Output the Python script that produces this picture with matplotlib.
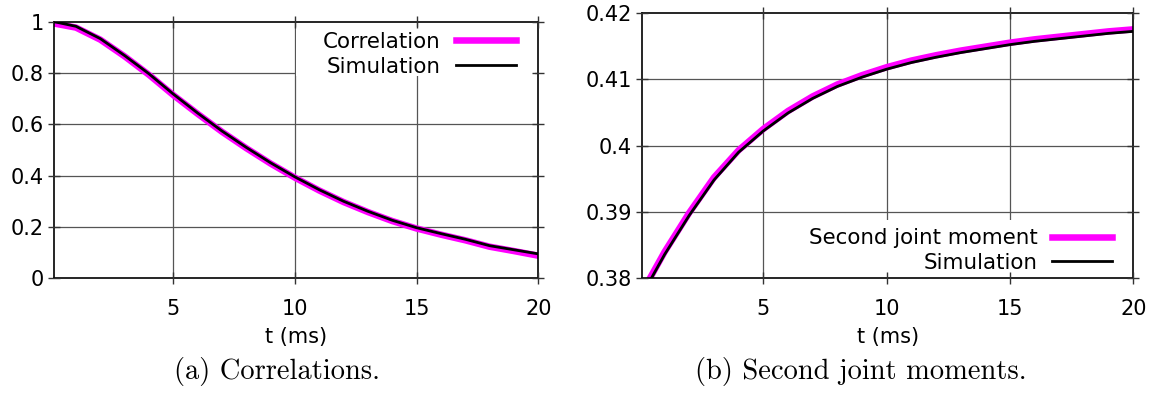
import matplotlib
matplotlib.use("Agg")
import matplotlib.pyplot as plt
from matplotlib.patches import Rectangle

# time axis (ms)
t = [0.1, 1, 2, 3, 4, 5, 6, 7, 8, 9, 10, 11, 12, 13, 14, 15, 16, 17, 18, 19, 20]

# (a) correlations
corr_theory = [0.993, 0.977, 0.930, 0.865, 0.793, 0.714, 0.641, 0.571, 0.507, 0.447, 0.392,
               0.342, 0.297, 0.258, 0.223, 0.194, 0.170, 0.148, 0.123, 0.106, 0.088]
corr_sim = [1.000, 0.982, 0.934, 0.868, 0.797, 0.718, 0.644, 0.574, 0.510, 0.450, 0.395,
            0.345, 0.300, 0.261, 0.226, 0.197, 0.174, 0.152, 0.127, 0.111, 0.095]

# (b) second joint moments
mom_theory = [0.3780, 0.3840, 0.3899, 0.3952, 0.3993, 0.4025, 0.4052, 0.4074, 0.4092, 0.4106, 0.4118,
              0.4128, 0.4136, 0.4143, 0.4149, 0.4155, 0.4160, 0.4164, 0.4168, 0.4172, 0.4175]
mom_sim = [0.3776, 0.3836, 0.3895, 0.3948, 0.3990, 0.4022, 0.4049, 0.4071, 0.4089, 0.4103, 0.4115,
           0.4125, 0.4133, 0.4140, 0.4146, 0.4152, 0.4157, 0.4161, 0.4165, 0.4169, 0.4172]

xticks = [5, 10, 15, 20]
yticks_a = [0, 0.2, 0.4, 0.6, 0.8, 1]
ylabels_a = ["0", "0.2", "0.4", "0.6", "0.8", "1"]
yticks_b = [0.38, 0.39, 0.40, 0.41, 0.42]
ylabels_b = ["0.38", "0.39", "0.4", "0.41", "0.42"]

MAGENTA = "#ff00ff"
FS = 15

plt.rcParams["font.family"] = "DejaVu Sans"

fig = plt.figure(figsize=(11.57, 3.98), dpi=100)
ax1 = fig.add_axes([0.0467, 0.3008, 0.4186, 0.6447])
ax2 = fig.add_axes([0.5553, 0.3008, 0.4242, 0.6671])


def style(ax, yticks, ylabels, ylim, box):
    ax.set_xlim(0.1, 20)
    ax.set_ylim(*ylim)
    ax.set_xticks(xticks)
    ax.set_xticklabels([str(v) for v in xticks])
    ax.set_yticks(yticks)
    ax.set_yticklabels(ylabels)
    ax.tick_params(direction="inout", length=8, width=1, labelsize=FS,
                   top=True, right=True, color="#333333")
    ax.tick_params(axis="x", pad=11)
    ax.tick_params(axis="y", pad=3.5)
    ax.set_axisbelow(False)
    # grid drawn by hand so the key box can sit over it but under the ticks
    for v in xticks[:-1]:
        ax.axvline(v, color="#555555", lw=0.9, zorder=0.5)
    for v in yticks[1:-1]:
        ax.axhline(v, color="#555555", lw=0.9, zorder=0.5)
    ax.add_patch(Rectangle(box[:2], box[2], box[3], transform=ax.transAxes,
                           facecolor="white", edgecolor="none", zorder=1))
    for s in ax.spines.values():
        s.set_linewidth(1.2)
    ax.set_xlabel("t (ms)", fontsize=FS, labelpad=6)


style(ax1, yticks_a, ylabels_a, (0, 1), (0.5, 0.788, 0.494, 0.192))
style(ax2, yticks_b, ylabels_b, (0.38, 0.42), (0.28, 0.0, 0.715, 0.22))

ax1.plot(t, corr_theory, color=MAGENTA, lw=4.7, label="Correlation", zorder=2)
ax1.plot(t, corr_sim, color="black", lw=2, label="Simulation", zorder=3)
ax2.plot(t, mom_theory, color=MAGENTA, lw=4.7, label="Second joint moment", zorder=2)
ax2.plot(t, mom_sim, color="black", lw=2, label="Simulation", zorder=3)

leg_kw = dict(frameon=False, markerfirst=False, fontsize=15.4, handlelength=2.8,
              handletextpad=0.7, labelspacing=0.22, borderpad=0, borderaxespad=0)
ax1.legend(loc="upper right", bbox_to_anchor=(0.953, 0.96), **leg_kw)
ax2.legend(loc="lower right", bbox_to_anchor=(0.957, 0.02), **leg_kw)

fig.text(0.2398, 0.066, "(a) Correlations.", family="cmr10", fontsize=20.5,
         ha="center", va="center")
fig.text(0.7437, 0.066, "(b) Second joint moments.", family="cmr10", fontsize=20.5,
         ha="center", va="center")

fig.savefig("out.png", dpi=100)
